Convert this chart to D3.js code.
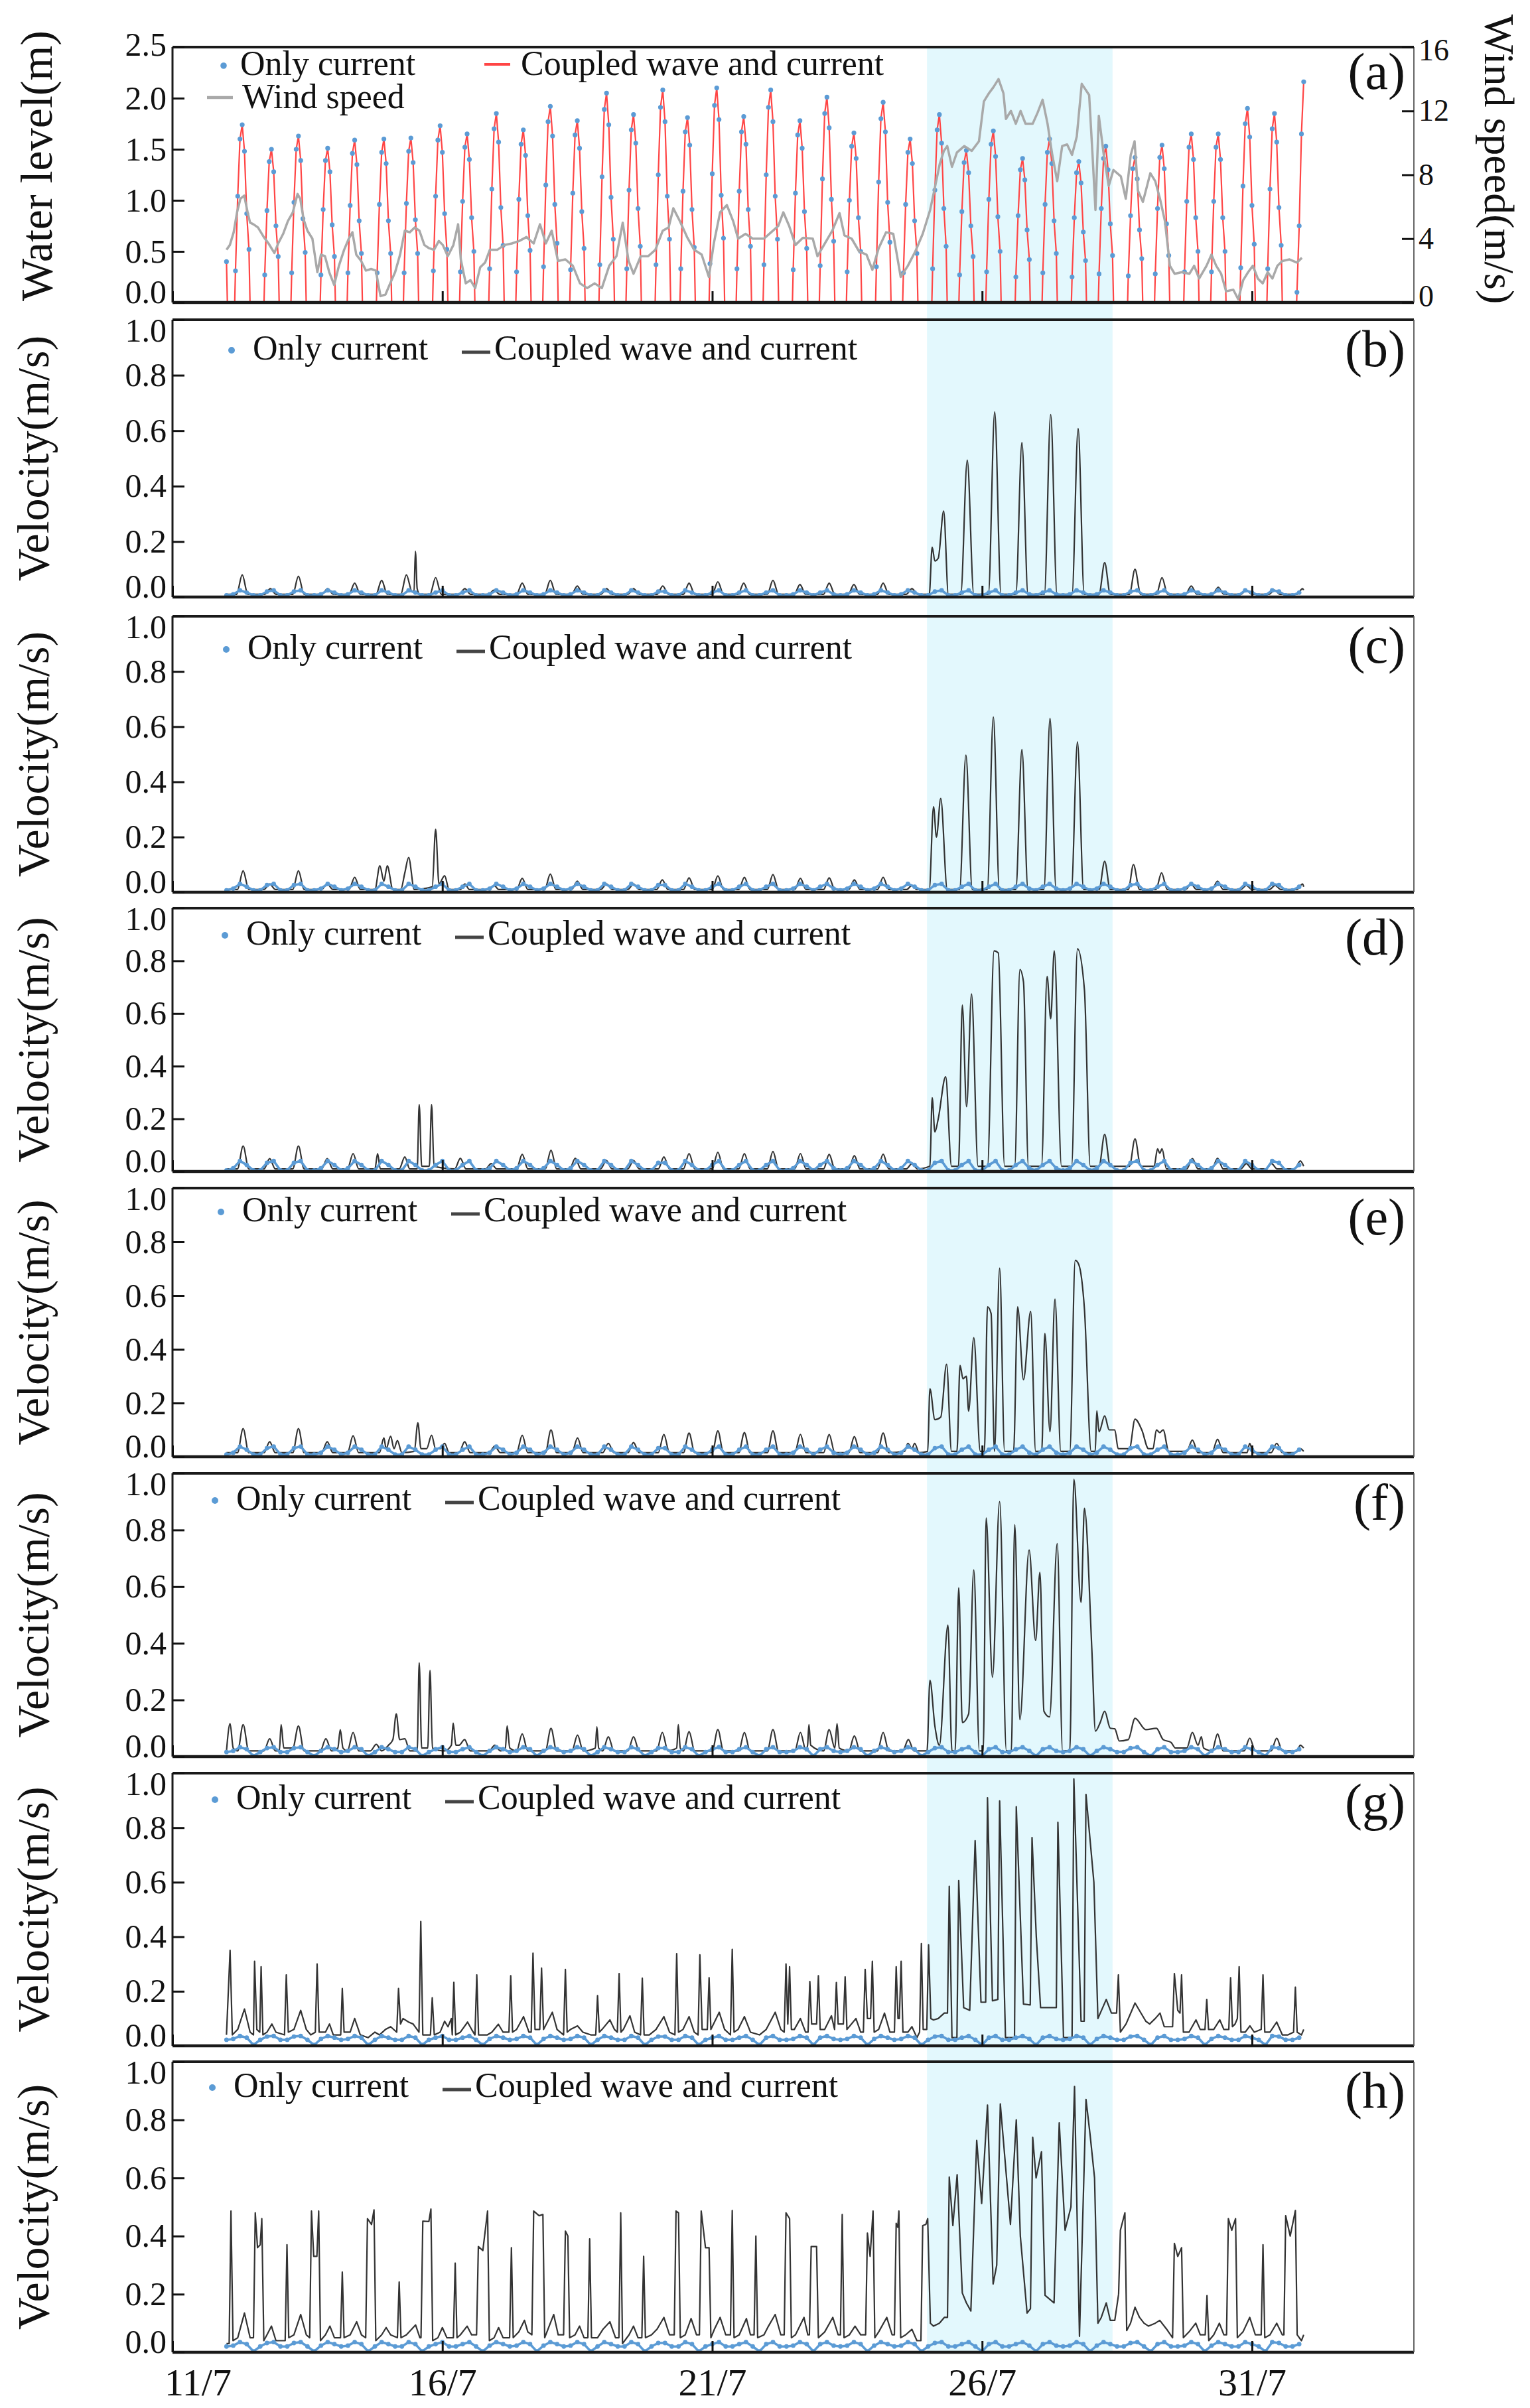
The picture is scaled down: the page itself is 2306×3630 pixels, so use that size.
<!DOCTYPE html>
<html><head><meta charset="utf-8">
<script src="https://cdn.jsdelivr.net/npm/d3@7"></script>
<style>body{margin:0;background:#fff}svg{display:block}</style>
</head><body>
<svg id="chart" width="2306" height="3630"></svg>
<script>
// ---------------- DATA ----------------
// x axis: days of July (tick positions) and their labels
const xTickDays = [11, 16, 21, 26, 31];
const xTickLabels = ["11/7", "16/7", "21/7", "26/7", "31/7"];
// storm window, hours counted from 11/7 00:00
const stormWindow = [335.5, 418];
// y tick values
const waterTicks = [0, 0.5, 1.0, 1.5, 2.0, 2.5];
const windTicks = [0, 4, 8, 12, 16];
const velTicks = [0, 0.2, 0.4, 0.6, 0.8, 1.0];

// water level (m), hourly from 12/7 00:00 (one row per day)
const waterLevel = [
.4,-.6,-.6,-.6,.31,1.04,1.6,1.74,1.48,.87,.52,-.6,-.6,-.6,-.6,-.6,-.6,.27,.9,1.38,1.5,1.28,.75,.45,
-.6,-.6,-.6,-.6,-.6,.29,.98,1.5,1.63,1.39,.82,.49,-.6,-.6,-.6,-.6,-.6,-.6,.27,.91,1.39,1.51,1.28,.76,
.45,-.6,-.6,-.6,-.6,-.6,.29,.95,1.46,1.59,1.35,.8,.48,-.6,-.6,-.6,-.6,-.6,-.6,.29,.96,1.47,1.6,1.36,
.8,.48,-.6,-.6,-.6,-.6,-.6,.29,.97,1.48,1.61,1.37,.81,.48,-.6,-.6,-.6,-.6,-.6,-.6,.31,1.04,1.59,1.73,
1.47,.87,.52,-.6,-.6,-.6,-.6,-.6,.3,.99,1.52,1.65,1.4,.83,.5,-.6,-.6,-.6,-.6,-.6,-.6,.33,1.11,1.7,
1.85,1.57,.93,.56,-.6,-.6,-.6,-.6,-.6,.3,1.01,1.55,1.69,1.44,.85,.51,-.6,-.6,-.6,-.6,-.6,.35,1.15,1.77,
1.92,1.63,.96,.58,-.6,-.6,-.6,-.6,-.6,.32,1.07,1.64,1.78,1.51,.89,.53,-.6,-.6,-.6,-.6,-.6,-.6,.37,1.23,
1.89,2.05,1.74,1.03,.62,-.6,-.6,-.6,-.6,-.6,.33,1.1,1.69,1.84,1.56,.92,.55,-.6,-.6,-.6,-.6,-.6,-.6,.37,
1.25,1.91,2.08,1.77,1.04,.62,-.6,-.6,-.6,-.6,.33,1.09,1.67,1.81,1.54,.91,.54,-.6,-.6,-.6,-.6,-.6,-.6,.38,
1.26,1.93,2.1,1.79,1.05,.63,-.6,-.6,-.6,-.6,-.6,.33,1.09,1.67,1.82,1.55,.91,.55,-.6,-.6,-.6,-.6,-.6,.37,
1.25,1.91,2.08,1.77,1.04,.62,-.6,-.6,-.6,-.6,-.6,-.6,.32,1.07,1.64,1.78,1.51,.89,.53,-.6,-.6,-.6,-.6,-.6,
.36,1.21,1.85,2.01,1.71,1.01,.6,-.6,-.6,-.6,-.6,-.6,.3,1,1.53,1.66,1.41,.83,.5,-.6,-.6,-.6,-.6,-.6,
-.6,.35,1.18,1.8,1.96,1.67,.98,.59,-.6,-.6,-.6,-.6,-.6,.29,.96,1.47,1.6,1.36,.8,.48,-.6,-.6,-.6,-.6,
-.6,-.6,.33,1.1,1.69,1.84,1.56,.92,.55,-.6,-.6,-.6,-.6,-.6,.27,.89,1.37,1.49,1.27,.75,.45,-.6,-.6,-.6,
-.6,-.6,.3,1.01,1.55,1.68,1.43,.84,.5,-.6,-.6,-.6,-.6,-.6,-.6,.25,.85,1.3,1.41,1.2,.71,.42,-.6,-.6,
-.6,-.6,-.6,.29,.96,1.47,1.6,1.36,.8,.48,-.6,-.6,-.6,-.6,-.6,-.6,.25,.83,1.27,1.38,1.17,.69,.41,-.6,
-.6,-.6,-.6,-.6,.28,.92,1.41,1.53,1.3,.77,.46,-.6,-.6,-.6,-.6,-.6,-.6,.26,.85,1.31,1.42,1.21,.71,.43,
-.6,-.6,-.6,-.6,-.6,.28,.92,1.42,1.54,1.31,.77,.46,-.6,-.6,-.6,-.6,-.6,-.6,.3,.99,1.52,1.65,1.4,.83,
.5,-.6,-.6,-.6,-.6,-.6,.3,.99,1.52,1.65,1.4,.83,.5,-.6,-.6,-.6,-.6,-.6,-.6,.34,1.14,1.75,1.9,1.62,
.95,.57,-.6,-.6,-.6,-.6,-.6,.33,1.11,1.7,1.85,1.57,.93,.56,-.6,-.6,-.6,-.6,-.6,-.6,.1,.75,1.65,2.16
];

// wind speed (m/s): [hour from 12/7 00:00, value]
const windSpeed = [[0,3.3],[1.5,3.6],[3.2,4.4],[4.7,5.65],[6.2,6.5],[7.9,6.7],[9.4,5.65],[10.5,5.0],[12,4.9],[14,4.7],[16.6,4.1],[18.7,3.7],[21.3,3.1],[23,3.7],[25.2,4.3],[27.3,5.1],[29.5,5.65],[31.6,6.8],[32.8,6.5],[34.3,5.2],[36,4.5],[38.2,4.0],[40.4,1.9],[42,3.0],[43.8,2.9],[45.7,1.9],[47.9,1.1],[50,2.3],[52.3,3.3],[54.4,4.0],[56,4.4],[57.7,3.0],[59.9,2.6],[62,2.0],[64.3,2.1],[66.4,2.0],[68.5,0.4],[70.7,0.5],[72.8,1.2],[75,1.9],[77.2,3.0],[79.3,4.5],[81.5,4.4],[83.7,4.7],[85.8,4.5],[88,3.6],[90.1,3.4],[92.3,3.3],[94.4,3.85],[96.2,3.6],[98.4,2.9],[100.9,3.6],[103,4.9],[104.2,2.7],[106.4,1.2],[108.5,1.4],[110.6,0.9],[112.8,2.2],[115,2.5],[117.1,3.3],[120.4,3.3],[123.6,3.6],[126.9,3.7],[130.1,3.85],[133.4,4.1],[136.6,3.7],[139.4,4.9],[142,3.7],[144.6,4.5],[147.4,2.6],[150.7,2.7],[154,2.3],[157.2,1.2],[160.4,0.9],[163.7,1.2],[166.9,0.9],[170.2,2.3],[173.4,2.9],[176.2,5.0],[178.8,2.6],[181,1.8],[184.2,2.9],[187.5,2.9],[190.7,3.3],[194,4.5],[196.6,4.7],[198.7,5.9],[201.6,5.1],[204.8,4.1],[208,3.3],[211.3,3.0],[214.5,1.6],[216.7,3.7],[219.5,5.65],[222.5,6.1],[225.3,5.1],[227.5,4.0],[230.8,4.3],[234,4.0],[239,4.0],[242.2,4.4],[245.4,4.8],[247.6,5.65],[250.2,4.8],[253,3.6],[256.3,4.05],[260.7,4.0],[262.8,2.9],[266.1,3.7],[269.4,4.5],[272.6,5.6],[274.8,4.2],[278,4.0],[281.3,3.2],[284.6,3.0],[287.2,2.05],[290,3.4],[293.3,4.4],[296.5,4.3],[299.8,1.6],[303,2.3],[306.3,3.2],[309.6,4.3],[312.9,5.8],[315,7.2],[317.2,8.7],[319,9.5],[320.5,9.8],[322.6,8.5],[324.8,9.4],[328.1,9.8],[331.4,9.5],[334.6,10.1],[336.8,12.6],[339,13.1],[341.1,13.5],[343.3,14.0],[345.5,13.1],[346.6,11.5],[348.8,12.0],[351,11.2],[353.1,12.0],[355.3,11.2],[358.5,11.2],[360.7,11.9],[362.9,12.7],[365.1,11.2],[367.2,9.25],[369.4,7.6],[371.6,9.8],[373.8,9.9],[376,9.25],[378.1,10.4],[380.3,13.7],[383.6,13.0],[385.1,9.25],[386.4,5.8],[387.9,11.7],[390.1,9.25],[392.3,7.3],[394.4,8.3],[397.7,7.9],[399.9,6.5],[402.1,9.25],[403.8,10.1],[405.3,7.0],[407.5,6.3],[410.8,8.1],[413,7.6],[415.1,6.5],[417.3,5.1],[419.5,2.3],[421.6,1.8],[424.9,1.9],[428.2,1.8],[430.3,2.3],[432.5,1.5],[435.8,2.3],[438,3.0],[440.1,2.3],[442.3,1.8],[444.5,0.7],[447.7,0.8],[449.9,0.2],[452.1,1.4],[454.3,1.9],[456.4,2.3],[458.6,1.5],[460.8,1.2],[463,1.9],[465.1,1.5],[467.3,2.3],[469.5,2.6],[472.7,2.7],[476,2.5],[478.2,2.8]];

// "Only current" velocity (m/s), every 3 hours from 12/7 00:00
const onlyB = [
.006,.01,.024,.016,.006,.006,.02,.024,.006,.006, .02,.024,.006,.006,.01,.024,.016,.006,.01,.024,
.016,.006,.006,.024,.016,.006,.006,.024,.016,.006, .006,.016,.024,.006,.006,.016,.024,.006,.006,.01,
.024,.016,.006,.01,.024,.016,.006,.01,.024,.016, .006,.01,.024,.016,.006,.006,.024,.016,.006,.006,
.024,.016,.006,.006,.02,.02,.006,.006,.024,.016, .006,.006,.016,.024,.006,.006,.016,.024,.006,.006,
.016,.024,.006,.006,.01,.024,.016,.006,.016,.024, .01,.006,.01,.024,.016,.006,.01,.024,.016,.006,
.01,.024,.016,.006,.006,.02,.024,.006,.006,.016, .024,.006,.006,.016,.024,.006,.006,.016,.024,.01,
.006,.016,.024,.01,.006,.01,.024,.016,.006,.01, .024,.016,.006,.006,.02,.024,.006,.006,.016,.024,
.006,.006,.01,.024,.016,.006,.01,.024,.016,.006, .006,.024,.016,.006,.006,.024,.02,.006,.006,.016];
const onlyC = [
.007,.013,.03,.02,.007,.007,.026,.03,.007,.007, .026,.03,.007,.007,.013,.03,.02,.007,.013,.03,
.02,.007,.007,.03,.02,.007,.007,.03,.02,.007, .007,.02,.03,.007,.007,.02,.03,.007,.007,.013,
.03,.02,.007,.013,.03,.02,.007,.013,.03,.02, .007,.013,.03,.02,.007,.007,.03,.02,.007,.007,
.03,.02,.007,.007,.026,.026,.007,.007,.03,.02, .007,.007,.02,.03,.007,.007,.02,.03,.007,.007,
.02,.03,.007,.007,.013,.03,.02,.007,.02,.03, .013,.007,.013,.03,.02,.007,.013,.03,.02,.007,
.013,.03,.02,.007,.007,.026,.03,.007,.007,.02, .03,.007,.007,.02,.03,.007,.007,.02,.03,.013,
.007,.02,.03,.013,.007,.013,.03,.02,.007,.013, .03,.02,.007,.007,.026,.03,.007,.007,.02,.03,
.007,.007,.013,.03,.02,.007,.013,.03,.02,.007, .007,.03,.02,.007,.007,.03,.026,.007,.007,.02];
const onlyD = [
.004,.012,.04,.025,.004,.004,.033,.04,.004,.004, .033,.04,.004,.004,.012,.04,.025,.004,.012,.04,
.025,.004,.004,.04,.025,.004,.004,.04,.025,.004, .004,.025,.04,.004,.004,.025,.04,.004,.004,.012,
.04,.025,.004,.012,.04,.025,.004,.012,.04,.025, .004,.012,.04,.025,.004,.004,.04,.025,.004,.004,
.04,.025,.004,.004,.033,.033,.004,.004,.04,.025, .004,.004,.025,.04,.004,.004,.025,.04,.004,.004,
.025,.04,.004,.004,.012,.04,.025,.004,.025,.04, .012,.004,.012,.04,.025,.004,.012,.04,.025,.004,
.012,.04,.025,.004,.004,.033,.04,.004,.004,.025, .04,.004,.004,.025,.04,.004,.004,.025,.04,.012,
.004,.025,.04,.012,.004,.012,.04,.025,.004,.012, .04,.025,.004,.004,.033,.04,.004,.004,.025,.04,
.004,.004,.012,.04,.025,.004,.012,.04,.025,.004, .004,.04,.025,.004,.004,.04,.033,.004,.004,.025];
const onlyE = [
.008,.015,.038,.026,.008,.008,.032,.038,.008,.008, .032,.038,.008,.008,.015,.038,.026,.008,.015,.038,
.026,.008,.008,.038,.026,.008,.008,.038,.026,.008, .008,.026,.038,.008,.008,.026,.038,.008,.008,.015,
.038,.026,.008,.015,.038,.026,.008,.015,.038,.026, .008,.015,.038,.026,.008,.008,.038,.026,.008,.008,
.038,.026,.008,.008,.032,.032,.008,.008,.038,.026, .008,.008,.026,.038,.008,.008,.026,.038,.008,.008,
.026,.038,.008,.008,.015,.038,.026,.008,.026,.038, .015,.008,.015,.038,.026,.008,.015,.038,.026,.008,
.015,.038,.026,.008,.008,.032,.038,.008,.008,.026, .038,.008,.008,.026,.038,.008,.008,.026,.038,.015,
.008,.026,.038,.015,.008,.015,.038,.026,.008,.015, .038,.026,.008,.008,.032,.038,.008,.008,.026,.038,
.008,.008,.015,.038,.026,.008,.015,.038,.026,.008, .008,.038,.026,.008,.008,.038,.032,.008,.008,.026];
const onlyF = [
.016,.02,.033,.026,.002,.016,.03,.033,.016,.016, .03,.033,.016,.002,.02,.033,.026,.016,.02,.033,
.026,.002,.016,.033,.026,.016,.016,.033,.026,.002, .016,.026,.033,.016,.016,.026,.033,.016,.002,.02,
.033,.026,.016,.02,.033,.026,.002,.02,.033,.026, .016,.02,.033,.026,.002,.016,.033,.026,.016,.016,
.033,.026,.002,.016,.03,.03,.016,.016,.033,.026, .002,.016,.026,.033,.016,.016,.026,.033,.016,.002,
.026,.033,.016,.016,.02,.033,.026,.002,.026,.033, .02,.016,.02,.033,.026,.002,.02,.033,.026,.016,
.02,.033,.026,.002,.016,.03,.033,.016,.016,.026, .033,.016,.002,.026,.033,.016,.016,.026,.033,.02,
.002,.026,.033,.02,.016,.02,.033,.026,.002,.02, .033,.026,.016,.016,.03,.033,.016,.002,.026,.033,
.016,.016,.02,.033,.026,.002,.02,.033,.026,.016, .016,.033,.026,.016,.002,.033,.03,.016,.016,.026];
const onlyG = [
.022,.025,.036,.03,.003,.022,.034,.036,.022,.022, .034,.036,.022,.003,.025,.036,.03,.022,.025,.036,
.03,.003,.022,.036,.03,.022,.022,.036,.03,.003, .022,.03,.036,.022,.022,.03,.036,.022,.003,.025,
.036,.03,.022,.025,.036,.03,.003,.025,.036,.03, .022,.025,.036,.03,.003,.022,.036,.03,.022,.022,
.036,.03,.003,.022,.034,.034,.022,.022,.036,.03, .003,.022,.03,.036,.022,.022,.03,.036,.022,.003,
.03,.036,.022,.022,.025,.036,.03,.003,.03,.036, .025,.022,.025,.036,.03,.003,.025,.036,.03,.022,
.025,.036,.03,.003,.022,.034,.036,.022,.022,.03, .036,.022,.003,.03,.036,.022,.022,.03,.036,.025,
.003,.03,.036,.025,.022,.025,.036,.03,.003,.025, .036,.03,.022,.022,.034,.036,.022,.003,.03,.036,
.022,.022,.025,.036,.03,.003,.025,.036,.03,.022, .022,.036,.03,.022,.003,.036,.034,.022,.022,.03];
const onlyH = [
.02,.023,.035,.028,.003,.02,.032,.035,.02,.02, .032,.035,.02,.003,.023,.035,.028,.02,.023,.035,
.028,.003,.02,.035,.028,.02,.02,.035,.028,.003, .02,.028,.035,.02,.02,.028,.035,.02,.003,.023,
.035,.028,.02,.023,.035,.028,.003,.023,.035,.028, .02,.023,.035,.028,.003,.02,.035,.028,.02,.02,
.035,.028,.003,.02,.032,.032,.02,.02,.035,.028, .003,.02,.028,.035,.02,.02,.028,.035,.02,.003,
.028,.035,.02,.02,.023,.035,.028,.003,.028,.035, .023,.02,.023,.035,.028,.003,.023,.035,.028,.02,
.023,.035,.028,.003,.02,.032,.035,.02,.02,.028, .035,.02,.003,.028,.035,.02,.02,.028,.035,.023,
.003,.028,.035,.023,.02,.023,.035,.028,.003,.023, .035,.028,.02,.02,.032,.035,.02,.003,.028,.035,
.02,.02,.023,.035,.028,.003,.023,.035,.028,.02, .02,.035,.028,.02,.003,.035,.032,.02,.02,.028];

// "Coupled wave and current" velocity (m/s): [hour from 12/7 00:00, value]
const coupledB = [[0,.01],[4.5,.01],[7,.08],[9.5,.01],[17,.01],[19.5,.03],[22,.01],[29.5,.01],[32,.075],[34.5,.01],[42.5,.01],[45,.03],[47.5,.01],[54.5,.01],[57,.05],[59.5,.01],[66.5,.01],[69,.06],[71.5,.01],[77.5,.01],[80,.08],[82.5,.02],[83.4,.02],[84,.165],[84.8,.03],[86,.01],[90.5,.01],[93,.07],[95.5,.01],[103.5,.01],[106,.03],[108.5,.01],[116.5,.01],[119,.025],[121.5,.01],[129,.01],[131.5,.05],[134,.01],[141.5,.01],[144,.06],[146.5,.01],[153.5,.01],[156,.04],[158.5,.01],[166.5,.01],[169,.03],[171.5,.01],[178.5,.01],[181,.03],[183.5,.01],[191.5,.01],[194,.04],[196.5,.01],[203.2,.01],[205.7,.05],[208.2,.01],[216,.01],[218.5,.055],[221,.01],[227.5,.01],[230,.05],[232.5,.01],[240.5,.01],[243,.06],[245.5,.01],[252.5,.01],[255,.045],[257.5,.01],[265.5,.01],[268,.05],[270.5,.01],[276.5,.01],[279,.045],[281.5,.01],[289.5,.01],[292,.05],[294.5,.01],[302.3,.01],[304.8,.03],[307.3,.01],[312.5,.01],[313.8,.18],[315,.13],[316.5,.14],[318.9,.31],[321,.01],[326.5,.01],[329.4,.494],[332.3,.01],[338.8,.01],[341.6,.668],[344.4,.01],[351,.01],[353.7,.557],[356.4,.01],[363.7,.01],[366.5,.658],[369.3,.01],[376,.01],[378.7,.608],[381.4,.01],[388,.01],[390.5,.124],[393,.01],[401.5,.01],[404,.1],[406.5,.01],[413.5,.01],[416,.07],[418.5,.01],[426.5,.01],[429,.04],[431.5,.01],[438.5,.01],[441,.035],[443.5,.01],[451,.01],[453.5,.025],[456,.01],[463.5,.01],[466,.025],[468.5,.01],[476,.01],[478.5,.03],[479,.025]];
const coupledC = [[0,.01],[4.9,.01],[7.4,.078],[9.9,.01],[16.7,.01],[19.2,.03],[21.7,.01],[29.5,.01],[32,.078],[34.5,.01],[42.3,.01],[44.8,.03],[47.3,.01],[54.5,.01],[57,.054],[59.5,.01],[66,.01],[68.2,.096],[70,.04],[71.5,.096],[74,.01],[77.5,.01],[79.3,.07],[81,.126],[83.5,.01],[91.5,.02],[93,.228],[94.5,.03],[97,.06],[99,.01],[104,.01],[106,.03],[108,.01],[117,.01],[119,.025],[121,.01],[129,.01],[131.5,.05],[134,.01],[141.5,.01],[144,.066],[146.5,.01],[153.5,.01],[156,.04],[158.5,.01],[166.5,.01],[169,.03],[171.5,.01],[178.5,.01],[181,.03],[183.5,.01],[191.3,.01],[193.8,.045],[196.3,.01],[203.2,.01],[205.7,.052],[208.2,.01],[216,.01],[218.5,.059],[221,.01],[227.8,.01],[230.3,.054],[232.8,.01],[240.5,.01],[243,.064],[245.5,.01],[252.7,.01],[255.2,.05],[257.7,.01],[265.5,.01],[268,.052],[270.5,.01],[276.7,.01],[279.2,.045],[281.7,.01],[289.5,.01],[292,.054],[294.5,.01],[302.5,.01],[304.8,.025],[307,.01],[312.5,.01],[314.4,.31],[315.7,.2],[317.6,.34],[320.5,.01],[326,.01],[328.8,.497],[331.6,.01],[338.3,.01],[341,.635],[343.7,.01],[351,.01],[353.7,.517],[356.4,.01],[363.5,.01],[366.2,.63],[368.9,.01],[375.7,.01],[378.4,.545],[381.1,.01],[388,.01],[390.5,.112],[393,.01],[401,.01],[403.3,.1],[406,.01],[413.3,.01],[415.8,.07],[418.3,.01],[426.5,.01],[428.9,.03],[431.3,.01],[438.2,.01],[440.7,.04],[443.2,.01],[451,.01],[453.5,.025],[456,.01],[463.8,.01],[466.3,.025],[468.8,.01],[476,.01],[478.5,.03],[479,.02]];
const coupledD = [[0,.01],[4.9,.01],[7.4,.097],[9.9,.01],[16.7,.01],[19.2,.049],[21.7,.01],[29.5,.01],[32,.097],[34.5,.01],[42.3,.01],[44.8,.049],[47.3,.01],[53.8,.01],[56.3,.068],[58.8,.01],[66,.01],[67.2,.068],[68.4,.01],[76.8,.01],[79.3,.055],[81.5,.01],[84.8,.01],[85.7,.254],[86.8,.02],[90.2,.02],[91.2,.254],[92.3,.02],[101.5,.01],[104,.05],[106.5,.01],[115.2,.01],[117.7,.03],[120.2,.01],[129,.01],[131.5,.065],[134,.01],[141.8,.01],[144.3,.081],[146.8,.01],[152.6,.01],[155.1,.05],[157.6,.01],[166.4,.01],[168.9,.042],[171.4,.01],[178.5,.01],[181,.042],[183.5,.01],[192,.01],[194.5,.055],[197,.01],[203.2,.01],[205.7,.068],[208.2,.01],[216,.01],[218.5,.073],[221,.01],[227.8,.01],[230.3,.068],[232.8,.01],[240.5,.01],[243,.076],[245.5,.01],[252.7,.01],[255.2,.068],[257.7,.01],[265.5,.01],[268,.065],[270.5,.01],[276.7,.01],[279.2,.06],[281.7,.01],[289.5,.01],[292,.066],[294.5,.01],[302.3,.01],[304.8,.03],[307.3,.01],[312.8,.02],[313.8,.28],[315,.15],[316.5,.2],[319.8,.36],[322.4,.02],[325.5,.02],[327.2,.632],[329.1,.246],[331.3,.674],[334.2,.02],[338.4,.02],[341.3,.838],[343.2,.83],[346,.02],[350.5,.02],[352.8,.767],[354.4,.72],[356.6,.02],[362.4,.02],[364.9,.741],[366.5,.58],[368.1,.838],[371.3,.02],[375.8,.02],[378.4,.846],[381.5,.69],[384.1,.02],[388,.02],[390.5,.141],[393,.02],[401.5,.02],[404,.124],[406.5,.02],[412.5,.02],[414,.086],[415,.07],[416,.086],[418,.01],[427,.01],[429.5,.049],[432,.01],[438.2,.01],[440.7,.05],[443.2,.01],[451,.01],[453.5,.03],[456,.01],[462.2,.01],[464.7,.03],[467.2,.01],[475,.01],[477.5,.04],[479,.02]];
const coupledE = [[0,.015],[4.9,.015],[7.4,.105],[9.9,.015],[16.7,.015],[19.2,.056],[21.7,.015],[29.5,.015],[32,.105],[34.5,.015],[42.3,.015],[44.8,.056],[47.3,.015],[53.8,.015],[56.3,.078],[58.8,.015],[68,.015],[70,.07],[71,.03],[73,.076],[74.5,.03],[76,.06],[78,.015],[83.5,.02],[85.1,.126],[86.5,.03],[89,.03],[91.2,.08],[93,.03],[95,.03],[97,.05],[99,.015],[103.4,.015],[105.9,.056],[108.4,.015],[116.8,.015],[119.3,.04],[121.8,.015],[129,.015],[131.5,.08],[134,.015],[141.8,.015],[144.3,.1],[146.8,.015],[153.6,.015],[156.1,.07],[158.6,.015],[167.3,.015],[169.8,.05],[172.3,.015],[178.5,.015],[181,.053],[183.5,.015],[192,.015],[194.5,.083],[197,.015],[203.2,.015],[205.7,.088],[208.2,.015],[216,.015],[218.5,.096],[221,.015],[227.8,.015],[230.3,.09],[232.8,.015],[240.5,.015],[243,.096],[245.5,.015],[252.7,.015],[255.2,.083],[257.7,.015],[265.5,.015],[268,.083],[270.5,.015],[276.7,.015],[279.2,.075],[281.7,.015],[289.5,.015],[292,.088],[294.5,.015],[301.5,.02],[303,.05],[304.8,.03],[306,.05],[308,.015],[311.8,.02],[312.8,.253],[315,.138],[317.6,.147],[320.2,.344],[322.4,.02],[324.8,.02],[326.2,.34],[327.5,.29],[329,.3],[330,.17],[332.3,.443],[335.2,.02],[337,.02],[338.4,.558],[340,.533],[341.5,.02],[343.8,.702],[346,.02],[350,.02],[351.8,.558],[354.4,.287],[357.6,.541],[359.8,.02],[362.5,.02],[363.9,.459],[366.2,.093],[368.4,.587],[371,.02],[375,.02],[377.4,.731],[379,.715],[381.5,.55],[384.5,.02],[386.3,.02],[387,.171],[388,.093],[390.5,.152],[392.5,.1],[395,.1],[396.5,.03],[401.5,.03],[404,.14],[407,.1],[410,.03],[412,.03],[413.5,.1],[415,.09],[416.5,.1],[419,.02],[427,.02],[429.5,.062],[432,.015],[438.2,.015],[440.7,.065],[443.2,.015],[453.8,.015],[455,.05],[456.5,.015],[464.5,.015],[467,.05],[469.5,.015],[475,.015],[477.5,.03],[479,.02]];
const coupledF = [[0,.02],[1.6,.116],[3,.03],[5,.02],[7.4,.113],[9.9,.02],[16.7,.02],[19.2,.063],[21.7,.02],[23.5,.02],[24.3,.113],[25.5,.03],[29.5,.03],[32,.108],[34.5,.02],[41.7,.02],[44.2,.063],[46.7,.02],[49.5,.03],[50.6,.095],[51.8,.03],[53.8,.02],[56.3,.085],[58.8,.02],[64,.02],[66.6,.043],[69,.02],[72,.04],[74,.06],[75.5,.151],[77,.06],[79.3,.063],[81.5,.02],[84.8,.02],[85.7,.331],[86.8,.03],[89.5,.03],[90.5,.304],[91.6,.03],[97,.02],[100,.04],[100.8,.118],[102,.04],[103.4,.04],[105.9,.06],[108.4,.02],[116.8,.02],[119.3,.04],[121.8,.02],[124,.03],[124.8,.108],[126,.03],[129,.02],[131.5,.08],[134,.02],[141.8,.02],[144.3,.1],[146.8,.02],[153.6,.02],[156.1,.076],[158.6,.02],[164,.03],[164.7,.105],[165.5,.03],[167.3,.02],[169.8,.07],[172.3,.02],[178.5,.02],[181,.07],[183.5,.02],[191.3,.02],[193.8,.085],[196.3,.02],[200.2,.03],[200.9,.113],[201.8,.03],[203.2,.02],[205.7,.088],[208.2,.02],[216,.02],[218.5,.095],[221,.02],[227.8,.02],[230.3,.085],[232.8,.02],[240.5,.02],[243,.095],[245.5,.02],[252.7,.02],[255.2,.085],[257.7,.02],[258.4,.04],[259,.113],[259.8,.04],[265.5,.02],[268,.095],[270.5,.03],[271.5,.116],[272.5,.03],[276.7,.02],[279.2,.073],[281.7,.02],[289.5,.02],[292,.085],[294.5,.02],[300.7,.02],[303.2,.06],[305.7,.02],[311.5,.02],[312.8,.269],[315,.108],[317,.04],[320.8,.464],[322.6,.02],[324,.02],[325.6,.596],[327.2,.12],[330,.15],[332.3,.659],[334.8,.02],[336.5,.02],[337.8,.842],[340.6,.28],[343.8,.9],[346.8,.02],[349,.02],[350.5,.819],[352.8,.13],[356.9,.729],[359.8,.41],[361.7,.65],[363.5,.16],[366,.14],[369.4,.752],[371.8,.02],[375,.02],[376.8,.979],[380,.545],[381.5,.877],[384.8,.378],[386.4,.09],[388.5,.12],[390.5,.16],[393,.1],[395,.098],[397,.055],[401,.06],[404,.135],[408.8,.095],[413.5,.1],[416.5,.06],[420,.05],[422,.03],[427,.03],[429.5,.085],[432,.04],[433.5,.07],[434.5,.03],[438.2,.02],[440.7,.08],[443.2,.02],[452.5,.02],[455,.065],[457.5,.02],[464.5,.02],[467,.065],[469.5,.02],[476,.02],[477.5,.04],[479,.03]];
const coupledG = [[0,.04],[1.6,.35],[2.6,.04],[5,.06],[8,.135],[10.5,.05],[12,.04],[12.5,.31],[13.5,.06],[14.8,.05],[15.4,.29],[16.2,.04],[18,.05],[20.2,.08],[22,.05],[25.8,.04],[26.6,.26],[27.5,.05],[30,.06],[33,.13],[35.5,.06],[37.5,.04],[39.5,.05],[40.3,.3],[41.2,.05],[44,.05],[45.8,.08],[47.5,.04],[50.8,.04],[51.5,.21],[52.3,.05],[55,.05],[57,.1],[59.5,.04],[63,.03],[66,.05],[68,.04],[70.7,.06],[73,.07],[75.7,.05],[76.5,.21],[77.4,.08],[78.5,.1],[81,.087],[83,.08],[85.6,.05],[86.4,.456],[87.3,.04],[90.7,.04],[91.5,.176],[92.4,.04],[95,.05],[97,.09],[98.5,.07],[100,.1],[100.4,.04],[101.1,.233],[101.9,.04],[104,.05],[107.2,.087],[109,.06],[110.5,.04],[111.3,.26],[112.1,.04],[116,.04],[118,.05],[120.9,.079],[123,.05],[125.6,.05],[126.4,.257],[127.2,.05],[129,.06],[132.1,.107],[134.5,.05],[135.5,.05],[136.3,.34],[137.2,.06],[139.3,.06],[140.1,.285],[141,.06],[144.9,.123],[147,.06],[149.9,.04],[150.7,.28],[151.5,.05],[153,.06],[156.1,.073],[158.5,.05],[162,.04],[164.2,.04],[165,.184],[165.8,.05],[167,.06],[170.5,.095],[172.5,.06],[173.8,.05],[174.6,.265],[175.4,.05],[176.5,.06],[179.4,.11],[181.5,.05],[184.1,.04],[184.9,.248],[185.7,.04],[188,.04],[191,.06],[194.5,.107],[197,.05],[199.4,.04],[200.2,.338],[201,.05],[203,.06],[205.7,.107],[208,.05],[209.7,.04],[210.5,.334],[211.5,.06],[213.8,.06],[214.6,.25],[215.4,.06],[219.1,.123],[221.5,.06],[224.1,.04],[224.9,.354],[225.7,.05],[227.5,.06],[230.3,.107],[233,.05],[237,.04],[240,.06],[244,.123],[246.5,.06],[248,.05],[248.8,.3],[249.6,.08],[250.4,.29],[251.2,.06],[252.5,.06],[255.2,.1],[257.5,.05],[258.6,.05],[259.4,.236],[260.2,.08],[262.4,.08],[263.2,.257],[264,.06],[266,.06],[269,.11],[270.4,.06],[271.2,.232],[272,.08],[274.3,.08],[275.1,.253],[275.9,.06],[279.9,.1],[282,.05],[283.2,.05],[284,.28],[285,.1],[286.4,.1],[287.2,.31],[288,.05],[290,.06],[292.6,.12],[295,.05],[297,.05],[297.8,.29],[298.6,.1],[299.2,.1],[300,.31],[300.8,.05],[303,.05],[304.8,.07],[307,.03],[308.2,.05],[309,.375],[309.8,.06],[311.4,.06],[312.2,.37],[313.2,.1],[314.4,.095],[316.5,.1],[319.2,.12],[320.6,.12],[321.4,.585],[322.6,.03],[324.8,.03],[325.6,.606],[327.8,.14],[330.5,.13],[332.9,.752],[335.5,.16],[337.6,.16],[338.4,.91],[340.6,.165],[343,.17],[343.8,.898],[346.4,.03],[350.4,.03],[351.2,.877],[354.4,.153],[357.4,.15],[358.2,.764],[360.1,.4],[362,.14],[366.5,.14],[369,.14],[369.7,.82],[372.2,.03],[376,.03],[376.8,.979],[380,.09],[381.4,.09],[382.2,.922],[385.7,.6],[387.5,.1],[391.2,.17],[393.5,.12],[395.8,.12],[396.6,.26],[397.5,.05],[400,.08],[404,.157],[408.8,.09],[410.5,.08],[413,.1],[415.1,.12],[417,.07],[420.7,.07],[421.5,.265],[423,.13],[424,.12],[424.7,.26],[425.5,.05],[428,.05],[431.1,.095],[433,.06],[435.1,.06],[435.9,.17],[436.7,.06],[439,.06],[441.7,.095],[443.5,.06],[445.7,.06],[446.5,.25],[447.3,.07],[448.5,.08],[449.5,.1],[450.3,.29],[451.1,.05],[453,.05],[455.1,.073],[457,.05],[460.1,.06],[460.9,.26],[461.7,.05],[464,.05],[467,.087],[469.5,.04],[472,.04],[474.5,.05],[475.3,.215],[476.1,.05],[478,.04],[479,.06]];
const coupledH = [[0,.03],[1.2,.03],[2,.486],[2.9,.04],[5,.05],[8,.135],[10.5,.05],[12,.05],[12.8,.48],[13.8,.36],[15,.37],[15.7,.46],[16.6,.04],[18,.06],[20,.09],[22,.04],[26.1,.04],[26.9,.37],[27.7,.05],[30,.06],[33,.13],[35.5,.06],[37,.05],[37.8,.486],[38.8,.33],[40.2,.33],[41,.486],[41.8,.04],[44,.06],[46,.09],[48,.05],[50.7,.05],[51.5,.276],[52.3,.05],[55,.06],[57.9,.105],[60,.06],[61.9,.05],[62.7,.46],[64.5,.44],[65.6,.49],[66.4,.04],[69,.06],[71,.085],[73,.06],[76,.05],[76.8,.242],[77.6,.05],[80,.06],[84.1,.094],[86,.05],[86.5,.05],[87.3,.451],[90,.45],[90.9,.493],[91.7,.04],[94,.05],[96,.085],[98,.05],[100.9,.05],[101.7,.307],[102.5,.05],[104,.06],[107,.09],[109,.06],[111.2,.06],[112,.364],[114,.35],[116.1,.486],[116.9,.04],[119,.05],[121,.085],[123,.05],[125.9,.05],[126.7,.36],[127.5,.05],[130,.07],[132.5,.11],[134,.07],[135.8,.06],[136.6,.486],[139,.47],[140.7,.474],[141.5,.05],[143,.08],[145.5,.13],[147.5,.06],[149.9,.06],[150.7,.417],[151.8,.4],[152.6,.05],[155,.06],[157,.09],[159,.05],[160.7,.05],[161.5,.39],[162.3,.05],[165,.05],[167.5,.08],[170.5,.105],[173,.05],[174.5,.05],[175.3,.48],[176.1,.03],[179,.06],[181,.09],[183,.05],[184.7,.05],[185.5,.33],[186.3,.05],[189,.06],[191.5,.08],[194.5,.12],[197,.06],[199.1,.06],[199.9,.486],[201,.48],[201.8,.05],[204,.06],[206.6,.116],[209,.06],[210.3,.06],[211.1,.486],[213,.36],[214.6,.36],[215.4,.05],[217,.08],[219.5,.12],[222,.06],[224.1,.06],[224.9,.488],[225.7,.05],[228,.06],[231.2,.116],[233,.06],[234.6,.06],[235.4,.4],[236.2,.05],[239,.06],[241,.09],[244,.13],[246.5,.06],[248,.06],[248.8,.48],[250.4,.46],[251.2,.05],[253,.06],[256.8,.12],[258.5,.06],[259.2,.06],[260,.364],[262.4,.364],[263.2,.05],[266,.07],[269.6,.12],[272,.06],[273,.06],[273.8,.474],[274.6,.05],[277,.06],[279.5,.09],[282,.06],[284.2,.06],[285,.41],[286.2,.33],[287.5,.486],[288.3,.05],[290,.07],[293.6,.12],[296,.06],[297,.06],[297.8,.444],[298.5,.43],[299,.486],[299.8,.05],[302,.06],[304.8,.079],[307,.04],[308.8,.04],[309.6,.436],[311,.44],[311.8,.46],[313,.1],[314.4,.09],[317,.1],[319.2,.12],[320.6,.12],[321.4,.603],[323,.436],[324.9,.611],[327.2,.204],[329,.17],[331,.142],[333.6,.729],[335.8,.512],[338.4,.851],[340.9,.235],[342.5,.3],[344.1,.855],[348.6,.44],[351.2,.8],[353,.4],[356,.135],[357.5,.15],[358.5,.74],[360,.6],[362.4,.69],[364,.196],[368,.17],[370.3,.79],[372.9,.42],[375.5,.5],[377.1,.915],[379.3,.055],[382.2,.87],[384,.75],[386,.6],[387.5,.1],[389,.12],[391.2,.17],[393,.11],[395,.11],[396.7,.2],[397.5,.42],[399.5,.48],[400.3,.075],[402,.1],[404,.155],[406,.12],[408,.1],[410,.09],[413,.1],[415,.11],[418,.08],[420.7,.05],[421.5,.375],[423,.33],[424.7,.36],[425.5,.05],[428,.07],[431,.1],[433,.06],[435.2,.06],[436,.195],[436.8,.04],[439,.06],[441.5,.1],[443.5,.06],[444.7,.06],[445.5,.46],[447,.42],[448.7,.46],[449.5,.05],[452,.07],[455,.12],[457.5,.06],[460.1,.06],[460.9,.37],[461.7,.05],[464,.06],[467,.1],[469.5,.06],[470.2,.06],[471,.47],[473,.4],[475.3,.488],[476.1,.06],[478,.04],[479,.06]];

// ---------------- DRAWING ----------------
const FONT = "'Liberation Serif','Times New Roman',Times,serif";
const BLUE = "#5b9bd5", RED = "#ff4545", GREY = "#a9a9a9", DARK = "#333";
const L = 260, R = 2131;
const svg = d3.select("#chart");
const defs = svg.append("defs");
svg.append("rect").attr("width", 2306).attr("height", 3630).attr("fill", "#fff");

// time axis: hours since 11/7 00:00
const x = d3.scaleLinear().domain([0, 23 * 24]).range([L, R]);
const hx = h => x(24 + h);           // hours since 12/7 00:00
const tickHours = xTickDays.map(d => (d - 11) * 24);

const panelA = {top: 71, bottom: 456};
const velPanels = [
  {label: "(b)", top: 482,  bottom: 900,  lx: 349, ldy: 46, only: onlyB, coupled: coupledB, curve: d3.curveMonotoneX},
  {label: "(c)", top: 929,  bottom: 1345, lx: 341, ldy: 50, only: onlyC, coupled: coupledC, curve: d3.curveMonotoneX},
  {label: "(d)", top: 1369, bottom: 1766, lx: 339, ldy: 41, only: onlyD, coupled: coupledD, curve: d3.curveMonotoneX},
  {label: "(e)", top: 1791, bottom: 2196, lx: 333, ldy: 36, only: onlyE, coupled: coupledE, curve: d3.curveMonotoneX},
  {label: "(f)", top: 2221, bottom: 2648, lx: 324, ldy: 41, only: onlyF, coupled: coupledF, curve: d3.curveMonotoneX},
  {label: "(g)", top: 2673, bottom: 3084, lx: 324, ldy: 40, only: onlyG, coupled: coupledG, curve: d3.curveLinear},
  {label: "(h)", top: 3108, bottom: 3546, lx: 320, ldy: 39, only: onlyH, coupled: coupledH, curve: d3.curveLinear}
];

// storm shading spanning all panels
svg.append("rect")
  .attr("x", x(stormWindow[0])).attr("width", x(stormWindow[1]) - x(stormWindow[0]))
  .attr("y", panelA.top).attr("height", 3546 - panelA.top)
  .attr("fill", "#e3f8fd");

function clipFor(id, top, bottom) {
  defs.append("clipPath").attr("id", id).append("rect")
    .attr("x", L).attr("y", top).attr("width", R - L).attr("height", bottom - top);
  return `url(#${id})`;
}
function styleAxis(a, size) {
  a.select(".domain").remove();
  a.selectAll(".tick line").attr("stroke", "#111").attr("stroke-width", 3);
  a.selectAll("text").attr("font-family", FONT).attr("font-size", size).attr("fill", "#111");
}
// nudge the lowest / highest tick labels so stacked panels do not collide
function nudgeEnds(a, lowShift, highShift) {
  const texts = a.selectAll(".tick text");
  const n = texts.size();
  texts.attr("transform", (d, i) => i === 0 ? `translate(0,${lowShift})` : (i === n - 1 ? `translate(0,${highShift})` : null));
}
function frame(top, bottom) {
  const g = svg.append("g").attr("stroke", "#1a1a1a").attr("fill", "none");
  g.append("line").attr("x1", L).attr("x2", R).attr("y1", top).attr("y2", top).attr("stroke-width", 4);
  g.append("line").attr("x1", L).attr("x2", R).attr("y1", bottom).attr("y2", bottom).attr("stroke-width", 4.5);
  g.append("line").attr("x1", L).attr("x2", L).attr("y1", top).attr("y2", bottom).attr("stroke-width", 3);
  g.append("line").attr("x1", R).attr("x2", R).attr("y1", top).attr("y2", bottom).attr("stroke-width", 1.8).attr("stroke", "#555");
}
function xAxis(bottom, withLabels) {
  const ax = d3.axisBottom(x).tickValues(tickHours).tickSize(-17).tickSizeOuter(0).tickPadding(24)
    .tickFormat((d, i) => withLabels ? xTickLabels[i] : "");
  const a = svg.append("g").attr("transform", `translate(0,${bottom})`).call(ax);
  styleAxis(a, 58);
  a.selectAll(".tick text").filter((d, i) => i === 0).attr("dx", 38);
}
function panelLabel(txt, top, dy) {
  svg.append("text").attr("x", 2118).attr("y", top + dy).attr("text-anchor", "end")
    .attr("font-family", FONT).attr("font-size", 78).attr("fill", "#111").text(txt);
}
function vTitle(txt, cx, cy, rot, size) {
  svg.append("text").attr("transform", `translate(${cx},${cy}) rotate(${rot})`)
    .attr("text-anchor", "middle").attr("font-family", FONT).attr("font-size", size)
    .attr("fill", "#111").text(txt);
}
function legendText(xp, yp, txt) {
  svg.append("text").attr("x", xp).attr("y", yp).attr("font-family", FONT)
    .attr("font-size", 52).attr("fill", "#111").text(txt);
}

// ---------- panel (a) ----------
{
  const {top, bottom} = panelA;
  const yL = d3.scaleLinear().domain([0, 2.5]).range([bottom, top]);
  const yR = d3.scaleLinear().domain([0, 16]).range([bottom, top]);
  const plot = svg.append("g").attr("clip-path", clipFor("clipA", top, bottom));
  plot.append("path").datum(waterLevel)
    .attr("d", d3.line().x((d, i) => hx(i)).y(d => yL(d)))
    .attr("fill", "none").attr("stroke", RED).attr("stroke-width", 2.2);
  plot.selectAll("circle.wl").data(waterLevel).join("circle").attr("class", "wl")
    .attr("cx", (d, i) => hx(i)).attr("cy", d => yL(d)).attr("r", 3.6).attr("fill", BLUE);
  plot.append("path").datum(windSpeed)
    .attr("d", d3.line().x(d => hx(d[0])).y(d => yR(d[1])))
    .attr("fill", "none").attr("stroke", GREY).attr("stroke-width", 3.5).attr("stroke-linejoin", "round");

  frame(top, bottom);
  const al = svg.append("g").attr("transform", `translate(${L},0)`)
    .call(d3.axisLeft(yL).tickValues(waterTicks).tickFormat(d3.format(".1f")).tickSize(-18).tickSizeOuter(0).tickPadding(9));
  styleAxis(al, 50);
  nudgeEnds(al, -16, -4);
  const ar = svg.append("g").attr("transform", `translate(${R},0)`)
    .call(d3.axisRight(yR).tickValues(windTicks).tickSize(-18).tickSizeOuter(0).tickPadding(7));
  styleAxis(ar, 46);
  nudgeEnds(ar, -9, 5);
  xAxis(bottom, false);

  // legend
  svg.append("circle").attr("cx", 337).attr("cy", 99).attr("r", 4.8).attr("fill", BLUE);
  legendText(362, 113, "Only current");
  svg.append("line").attr("x1", 730).attr("x2", 769).attr("y1", 97).attr("y2", 97).attr("stroke", RED).attr("stroke-width", 4);
  legendText(785, 113, "Coupled wave and current");
  svg.append("line").attr("x1", 312).attr("x2", 351).attr("y1", 147).attr("y2", 147).attr("stroke", GREY).attr("stroke-width", 4.5);
  legendText(365, 163, "Wind speed");

  panelLabel("(a)", top, 63);
  vTitle("Water level(m)", 78, 250, -90, 68);
  vTitle("Wind speed(m/s)", 2238, 240, 90, 64);
}

// ---------- velocity panels (b)-(h) ----------
velPanels.forEach((p, k) => {
  const y = d3.scaleLinear().domain([0, 1]).range([p.bottom, p.top]);
  const plot = svg.append("g").attr("clip-path", clipFor("clipV" + k, p.top, p.bottom));
  plot.append("path").datum(p.coupled)
    .attr("d", d3.line().curve(p.curve).x(d => hx(d[0])).y(d => y(d[1])))
    .attr("fill", "none").attr("stroke", DARK).attr("stroke-width", 2.2).attr("stroke-linejoin", "round");
  plot.append("path").datum(p.only)
    .attr("d", d3.line().x((d, i) => hx(3 * i)).y(d => y(d)))
    .attr("fill", "none").attr("stroke", BLUE).attr("stroke-width", 3.6);
  plot.selectAll("circle").data(p.only).join("circle")
    .attr("cx", (d, i) => hx(3 * i)).attr("cy", d => y(d)).attr("r", 3.4).attr("fill", BLUE);

  frame(p.top, p.bottom);
  const al = svg.append("g").attr("transform", `translate(${L},0)`)
    .call(d3.axisLeft(y).tickValues(velTicks).tickFormat(d3.format(".1f")).tickSize(-18).tickSizeOuter(0).tickPadding(9));
  styleAxis(al, 50);
  nudgeEnds(al, -16, 16);
  xAxis(p.bottom, k === velPanels.length - 1);

  const ly = p.top + p.ldy;
  svg.append("circle").attr("cx", p.lx).attr("cy", ly).attr("r", 5).attr("fill", BLUE);
  legendText(p.lx + 32, ly + 14, "Only current");
  svg.append("line").attr("x1", p.lx + 347).attr("x2", p.lx + 390).attr("y1", ly + 3).attr("y2", ly + 3)
    .attr("stroke", "#444").attr("stroke-width", 5);
  legendText(p.lx + 396, ly + 14, "Coupled wave and current");

  panelLabel(p.label, p.top, 70);
  vTitle("Velocity(m/s)", 73, (p.top + p.bottom) / 2, -90, 68);
});
</script>
</body></html>
